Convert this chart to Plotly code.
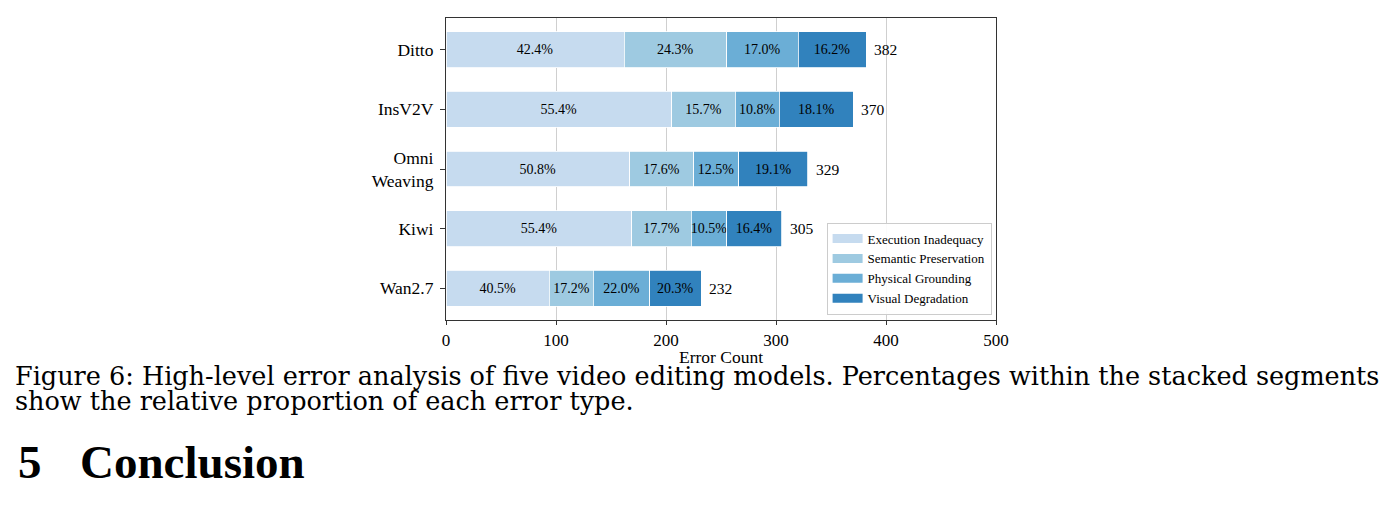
import plotly.graph_objects as go

models = ["Ditto", "InsV2V", "Omni<br>Weaving", "Kiwi", "Wan2.7"]
error_types = ["Execution Inadequacy", "Semantic Preservation", "Physical Grounding", "Visual Degradation"]
execution = [162, 205, 167, 169, 94]
semantic = [93, 58, 58, 54, 40]
physical = [65, 40, 41, 32, 51]
visual = [62, 67, 63, 50, 47]
series = [execution, semantic, physical, visual]
colors = ["#c6dbef", "#9ecae1", "#6baed6", "#3182bd"]
x_ticks = [0, 100, 200, 300, 400, 500]

totals = [sum(v) for v in zip(*series)]
W, H = 1392, 505
L, R, T, B = 446, 396, 18, 185
pw, ph = W - L - R, H - T - B

def px(x):
    return (x - L) / pw

def py(y):
    return (H - B - y) / ph

FONT = "Liberation Serif"
CAP = "DejaVu Serif"
fig = go.Figure()
for name, vals, col in zip(error_types, series, colors):
    fig.add_trace(go.Bar(
        y=models, x=vals, name=name, orientation="h",
        marker=dict(color=col, line=dict(color="white", width=0.8)),
        width=0.6,
        text=[f"{v / t * 100:.1f}%" for v, t in zip(vals, totals)],
        textposition="inside", insidetextanchor="middle", textangle=0,
        textfont=dict(family=FONT, size=14, color="black"),
        constraintext="none", showlegend=False,
        hoverinfo="skip",
    ))
# legend entries (rectangular swatches)
for name, col in zip(error_types, colors):
    fig.add_trace(go.Scatter(x=[None], y=[None], mode="lines", name=name,
                             line=dict(color=col, width=9), hoverinfo="skip"))

annotations = []
for m, t in zip(models, totals):
    annotations.append(dict(x=t, y=m, xref="x", yref="y", text=str(t), showarrow=False,
                            xanchor="left", yanchor="middle", xshift=6,
                            font=dict(family=FONT, size=15.5, color="black")))

line1 = "Figure 6: High-level error analysis of five video editing models. Percentages within the stacked segments"
line2 = "show the relative proportion of each error type."
annotations += [
    dict(xref="paper", yref="paper", x=px(13), y=py(375.5), xanchor="left", yanchor="middle",
         text=line1, showarrow=False, font=dict(family=CAP, size=25.5, color="black")),
    dict(xref="paper", yref="paper", x=px(13), y=py(401), xanchor="left", yanchor="middle",
         text=line2, showarrow=False, font=dict(family=CAP, size=25.5, color="black")),
    dict(xref="paper", yref="paper", x=px(16), y=py(462), xanchor="left", yanchor="middle",
         text="<b>5</b>", showarrow=False, font=dict(family=FONT, size=47, color="black")),
    dict(xref="paper", yref="paper", x=px(78), y=py(462), xanchor="left", yanchor="middle",
         text="<b>Conclusion</b>", showarrow=False, font=dict(family=FONT, size=47, color="black")),
]

fig.update_layout(
    barmode="stack",
    width=W, height=H,
    margin=dict(l=L, r=R, t=T, b=B, pad=0),
    paper_bgcolor="white", plot_bgcolor="white",
    font=dict(family=FONT, color="black", size=15),
    uniformtext=dict(mode=False),
    legend=dict(
        x=0.992, y=0.018, xanchor="right", yanchor="bottom",
        bgcolor="rgba(255,255,255,0.9)", bordercolor="#cccccc", borderwidth=1,
        font=dict(family=FONT, size=13), traceorder="normal",
        tracegroupgap=0,
    ),
    xaxis=dict(
        range=[0, 500], tickvals=x_ticks, ticktext=[str(v) for v in x_ticks],
        showgrid=True, gridcolor="#cfcfcf", gridwidth=1, zeroline=False,
        showline=True, linecolor="#333333", linewidth=1.2, mirror=True,
        ticks="outside", ticklen=4, tickcolor="#333333",
        tickfont=dict(family=FONT, size=17),
        title=dict(text="Error Count", font=dict(family=FONT, size=17.5), standoff=2),
    ),
    yaxis=dict(
        autorange=False, range=[4.53, -0.53],
        showgrid=False, zeroline=False,
        showline=True, linecolor="#333333", linewidth=1.2, mirror=True,
        ticks="outside", ticklen=5, tickcolor="#333333", ticklabelstandoff=3,
        tickfont=dict(family=FONT, size=17.5),
    ),
    annotations=annotations,
)

fig.write_html("out.html")
